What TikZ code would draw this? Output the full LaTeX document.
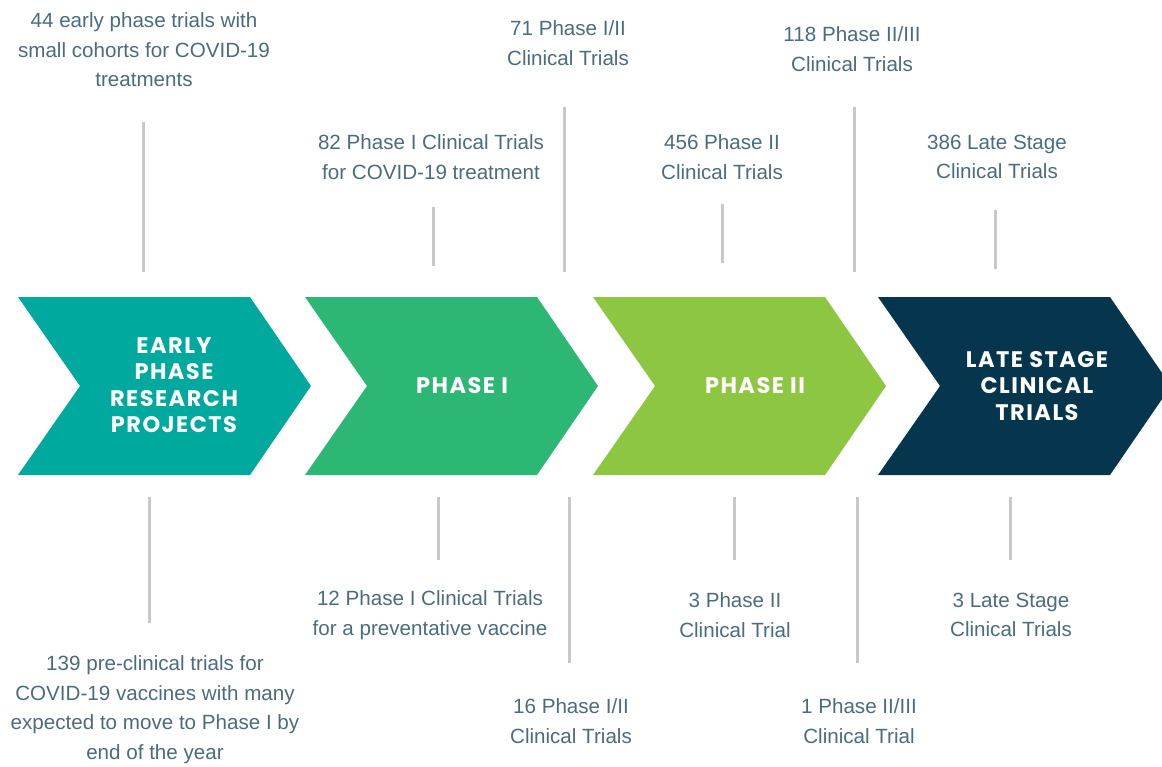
\documentclass[tikz,border=0pt]{standalone}
\usepackage{fontspec}
\setmainfont{Liberation Sans}
\newfontfamily\headfont{Poppins}[LetterSpace=6.5]
\usetikzlibrary{positioning}

\definecolor{tealphase}{HTML}{00A99D}
\definecolor{greenphase}{HTML}{2DB775}
\definecolor{limephase}{HTML}{8DC641}
\definecolor{navyphase}{HTML}{05364D}
\definecolor{labeltext}{HTML}{4A6C7E}
\definecolor{tickgray}{HTML}{C8C8C8}

\begin{document}
\begin{tikzpicture}[
    x=1pt, y=-1pt,
    heading/.style={text=white, align=center, inner sep=0pt, font=\headfont\bfseries\fontsize{22.5}{26.5}\selectfont},
    fact/.style={text=labeltext, align=center, inner sep=0pt, font=\fontsize{20.6}{29.5}\selectfont},
    tick/.style={draw=tickgray, line width=3pt}
  ]
    \useasboundingbox (0,0) rectangle (1162,766);
    \clip (0,0) rectangle (1162,766);

    % Chevrons
    \foreach \x/\col in {18/tealphase, 305/greenphase, 593/limephase, 878/navyphase}
      \fill[\col] (\x,297) -- ++(232,0) -- ++(61,89) -- ++(-61,89) -- ++(-232,0) -- ++(62,-89) -- cycle;

    \node[heading] (early) at (174,385) {EARLY\\PHASE\\RESEARCH\\PROJECTS};
    \node[heading] (phaseone) at (462,386) {PHASE I};
    \node[heading] (phasetwo) at (755,386) {PHASE II};
    \node[heading] (late) at (1037,386) {LATE STAGE\\CLINICAL\\TRIALS};

    % Row above: treatments
    \node[fact] (treatEarly) at (144,50) {44 early phase trials with\\small cohorts for COVID-19\\treatments};
    \node[fact] (treatOne) at (431,157) {82 Phase I Clinical Trials\\for COVID-19 treatment};
    \node[fact] (treatOneTwo) at (568,43) {71 Phase I/II\\Clinical Trials};
    \node[fact] (treatTwo) at (722,157) {456 Phase II\\Clinical Trials};
    \node[fact] (treatTwoThree) at (852,49) {118 Phase II/III\\Clinical Trials};
    \node[fact] (treatLate) at (997,157) {386 Late Stage\\Clinical Trials};

    % Row below: vaccines
    \node[fact] (vaccEarly) at (155,709.5) {139 pre-clinical trials for\\COVID-19 vaccines with many\\expected to move to Phase I by\\end of the year};
    \node[fact] (vaccOne) at (430,615) {12 Phase I Clinical Trials\\for a preventative vaccine};
    \node[fact] (vaccOneTwo) at (571,721) {16 Phase I/II\\Clinical Trials};
    \node[fact] (vaccTwo) at (735,615) {3 Phase II\\Clinical Trial};
    \node[fact] (vaccTwoThree) at (859,721) {1 Phase II/III\\Clinical Trial};
    \node[fact] (vaccLate) at (1011,615) {3 Late Stage\\Clinical Trials};

    % Ticks
    \foreach \x/\a/\b [count=\i] in {143/122/272, 433/207/266, 564/107/272, 722/204/263, 854/107/272, 995/210/269,
                                     149/497/623, 438/497/560, 569/497/663, 734/497/560, 857/497/663, 1010/497/560} {
      \coordinate (tick\i a) at (\x,\a);
      \coordinate (tick\i b) at (\x,\b);
      \draw[tick] (tick\i a) -- (tick\i b);
    }
  \end{tikzpicture}
\end{document}
